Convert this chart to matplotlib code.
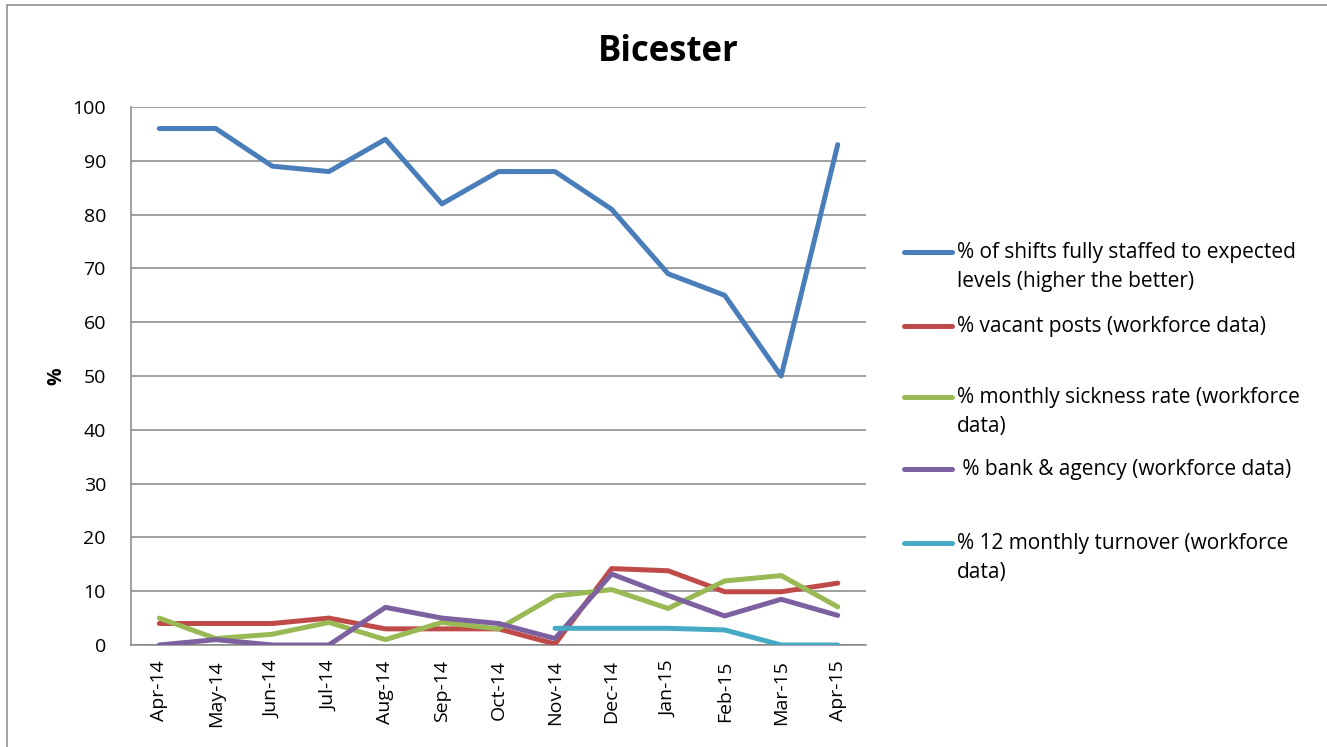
import numpy as np
import matplotlib
matplotlib.use("Agg")
import matplotlib.pyplot as plt
from matplotlib.lines import Line2D
from matplotlib.patches import Rectangle

months = ["Apr-14", "May-14", "Jun-14", "Jul-14", "Aug-14", "Sep-14", "Oct-14",
          "Nov-14", "Dec-14", "Jan-15", "Feb-15", "Mar-15", "Apr-15"]
shifts_staffed = [96, 96, 89, 88, 94, 82, 88, 88, 81, 69, 65, 50, 93]
vacant_posts = [4, 4, 4, 5, 3, 3, 3, 0.2, 14.2, 13.8, 9.9, 9.9, 11.5]
sickness_rate = [5, 1.2, 2, 4.2, 1, 4.2, 3, 9.1, 10.3, 6.8, 11.9, 12.9, 7.1]
bank_agency = [0, 1, 0, 0, 7, 5, 4, 1.2, 13.2, 9.2, 5.4, 8.5, 5.5]
turnover = [np.nan] * 7 + [3.1, 3.1, 3.1, 2.8, 0, 0]

labels = ["% of shifts fully staffed to expected\nlevels (higher the better)",
          "% vacant posts (workforce data)",
          "% monthly sickness rate (workforce\ndata)",
          " % bank & agency (workforce data)",
          "% 12 monthly turnover (workforce\ndata)"]
colors = ["#4A7EBB", "#BE4B48", "#98B954", "#7D60A0", "#46AAC5"]
series = [shifts_staffed, vacant_posts, sickness_rate, bank_agency, turnover]

font = ["Open Sans", "DejaVu Sans"]
plt.rcParams['font.family'] = font

W, H = 1327, 747
fig = plt.figure(figsize=(W / 100, H / 100), dpi=100)
ax = fig.add_axes([131 / W, 1 - 645 / H, (866 - 131) / W, (645 - 107) / H])

x = np.arange(len(months))
for i in range(len(series)):
    ax.plot(x, series[i], color=colors[i], lw=3.6, solid_capstyle='round',
            solid_joinstyle='round', zorder=3 + (1 if i == 0 else 0))

ax.set_xlim(-0.5, len(months) - 0.5)
ax.set_ylim(0, 100)
ax.set_yticks(np.arange(0, 101, 10))
ax.set_xticks(x)
ax.set_xticklabels(months, rotation=90, fontsize=14)
ax.tick_params(axis='y', labelsize=14, length=0, pad=18)
ax.tick_params(axis='x', length=0, pad=11)
ax.grid(axis='y', color='#868686', lw=1.1)
ax.set_axisbelow(True)
for s in ['top', 'right']:
    ax.spines[s].set_visible(False)
for s in ['left', 'bottom']:
    ax.spines[s].set_color('#868686')
    ax.spines[s].set_linewidth(1.1)

fig.text(56 / W, 1 - 376 / H, "%", rotation=90, fontsize=14, fontweight='bold',
         ha='center', va='center')
fig.text(668 / W, 1 - 52 / H, "Bicester", fontsize=25, fontweight='bold',
         ha='center', va='center')

leg_y = [252, 326, 397, 469, 543]
for i, lab in enumerate(labels):
    y = 1 - leg_y[i] / H
    fig.add_artist(Line2D([904 / W, 952 / W], [y, y], color=colors[i], lw=3.6,
                          solid_capstyle='round'))
    fig.text(957 / W, y + 10 / H, lab, fontsize=15, ha='left', va='top',
             linespacing=1.5)

fig.add_artist(Rectangle((7 / W, -0.05), 1.2, 1 - 5 / H + 0.05, transform=fig.transFigure,
                         fill=False, edgecolor='#868686', lw=1.1))

fig.savefig("out.png", dpi=100)
